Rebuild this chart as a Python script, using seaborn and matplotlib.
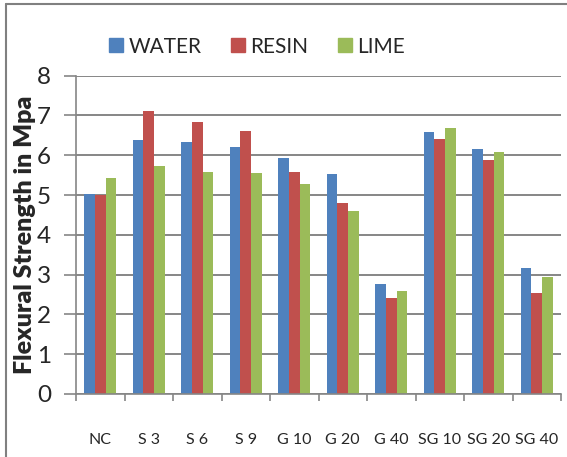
import numpy as np
import pandas as pd
import matplotlib
matplotlib.use("Agg")
import matplotlib.pyplot as plt
import seaborn as sns
from matplotlib.lines import Line2D

categories = ["NC", "S 3", "S 6", "S 9", "G 10", "G 20", "G 40", "SG 10", "SG 20", "SG 40"]
water = [5.03, 6.38, 6.33, 6.22, 5.92, 5.52, 2.77, 6.58, 6.17, 3.17]
resin = [5.00, 7.12, 6.83, 6.62, 5.58, 4.79, 2.42, 6.42, 5.89, 2.54]
lime = [5.43, 5.72, 5.58, 5.55, 5.28, 4.60, 2.59, 6.69, 6.08, 2.95]
series_names = ["WATER", "RESIN", "LIME"]
colors = ["#4F81BD", "#C0504D", "#9BBB59"]

df = pd.DataFrame({
    "cat": categories * 3,
    "val": water + resin + lime,
    "series": [s for s in series_names for _ in categories],
})

sns.set_style("white")
plt.rcParams["font.family"] = ["Lato", "DejaVu Sans"]

fig = plt.figure(figsize=(5.67, 4.57), dpi=100)
ax = fig.add_axes([76 / 567, 1 - 394 / 457, (561 - 76) / 567, (394 - 75.7) / 457])

sns.barplot(data=df, x="cat", y="val", hue="series", order=categories,
            hue_order=series_names, palette=colors, width=0.66, ax=ax,
            saturation=1, legend=False, edgecolor="none")

ax.set_xlim(-0.5, len(categories) - 0.5)
ax.set_ylim(0, 8)
ax.set_yticks(range(0, 9))
ax.yaxis.grid(True, color="#868686", linewidth=1.4)
ax.set_axisbelow(True)
for s in ["top", "right"]:
    ax.spines[s].set_visible(False)
for s in ["left", "bottom"]:
    ax.spines[s].set_color("#868686")
    ax.spines[s].set_linewidth(1.2)

ax.set_xticks(np.arange(-0.5, len(categories)), labels=[""] * (len(categories) + 1))
ax.set_xticks(np.arange(len(categories)), labels=categories, minor=True)
ax.tick_params(axis="x", which="major", length=5, width=1.2, color="#868686", direction="out", bottom=True)
ax.tick_params(axis="x", which="minor", length=0, pad=28, labelsize=11.5)
ax.tick_params(axis="y", length=9, width=1.2, color="#868686", direction="out", left=True, labelsize=17.5, pad=9)
ax.set_xlabel("")
ax.set_ylabel("Flexural Strength in Mpa", fontsize=18, fontweight="heavy", labelpad=0.5)

handles = [Line2D([0], [0], marker="s", linestyle="none", markersize=10,
                  markerfacecolor=c, markeredgecolor=c) for c in colors]
fig.legend(handles, series_names, loc="center", bbox_to_anchor=(0.45, 0.898),
           ncol=3, frameon=False, fontsize=15, handletextpad=0.1,
           columnspacing=1.25, handlelength=1.0)

# figure border lines (top and left)
fig.add_artist(Line2D([6 / 567, 1], [1 - 3.5 / 457, 1 - 3.5 / 457], color="#808080", linewidth=1.5,
                      transform=fig.transFigure))
fig.add_artist(Line2D([6 / 567, 6 / 567], [0, 1 - 3.5 / 457], color="#808080", linewidth=1.5,
                      transform=fig.transFigure))

fig.savefig("out.png", dpi=100)
